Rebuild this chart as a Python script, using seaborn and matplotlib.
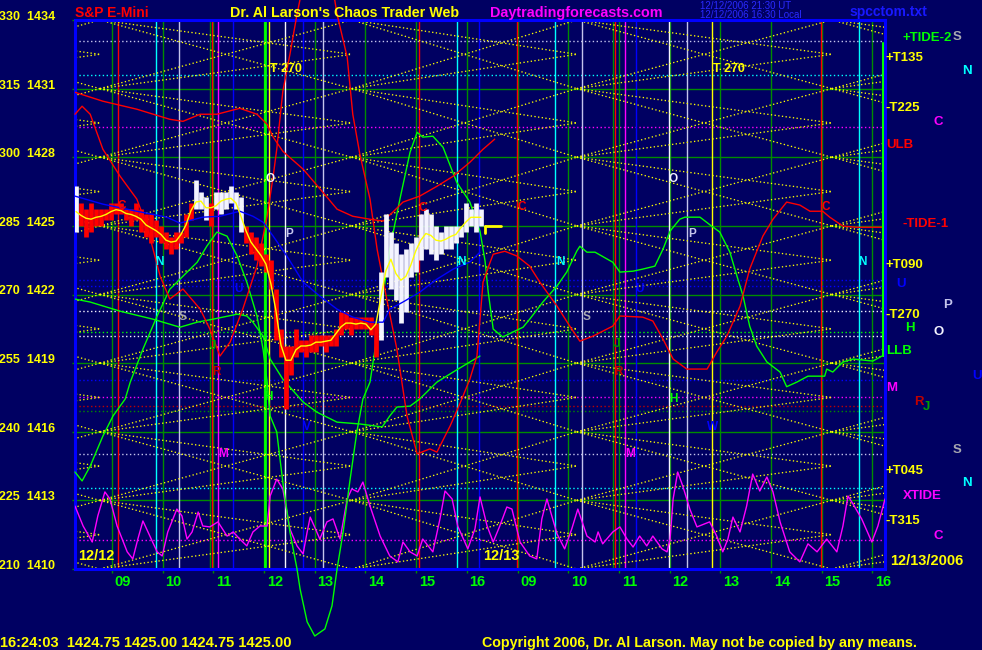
import numpy as np
import pandas as pd
import matplotlib
matplotlib.use("Agg")
import matplotlib.pyplot as plt
import matplotlib.transforms as mtransforms
from matplotlib.collections import LineCollection
import seaborn as sns

sns.set_theme(style="dark")
REG = ['Liberation Sans', 'DejaVu Sans']
NARROW = ['Liberation Sans Narrow', 'Liberation Sans', 'DejaVu Sans']
plt.rcParams['font.family'] = REG

# ---------------------------------------------------------------- data
# x axis = chart hours: 0 = 09:00 on 12/12, 8 = 09:00 on 12/13 (night collapsed)
hour_ticks = list(range(16))
hour_labels = ['09', '10', '11', '12', '13', '14', '15', '16'] * 2
price_ticks = [1410, 1413, 1416, 1419, 1422, 1425, 1428, 1431, 1434]
index_ticks = [210, 225, 240, 255, 270, 285, 300, 315, 330]

# ~6-minute price bars of 12/12
bar_t0 = -0.71
bar_step = 0.0986
bar_high = [1426.75, 1426.0, 1425.75, 1426.0, 1425.75, 1425.75, 1425.75, 1426.0, 1426.0, 1426.0,
            1425.75, 1425.75, 1426.0, 1425.75, 1425.5, 1425.5, 1425.25, 1425.0, 1424.75, 1424.5,
            1424.75, 1424.75, 1425.5, 1426.0, 1427.0, 1426.5, 1426.25, 1426.0, 1426.5, 1426.5,
            1426.5, 1426.75, 1426.5, 1426.25, 1425.0, 1424.75, 1424.5, 1424.25, 1423.75, 1423.5,
            1422.25, 1420.5, 1419.75, 1419.75, 1420.5, 1420.0, 1420.0, 1420.25, 1420.25, 1420.25,
            1420.25, 1420.25, 1420.5, 1421.25, 1421.25, 1421.0, 1421.0, 1421.0, 1421.0, 1421.0,
            1420.75, 1423.0, 1425.5, 1424.75, 1424.25, 1423.75, 1424.0, 1424.25, 1424.5, 1425.5,
            1425.75, 1425.5, 1425.0, 1424.75, 1425.0, 1425.0, 1425.0, 1425.0, 1426.0, 1425.75,
            1426.0, 1425.75]
bar_low = [1424.75, 1425.0, 1424.5, 1424.75, 1425.0, 1425.0, 1425.25, 1425.25, 1425.5, 1425.5,
           1425.25, 1425.0, 1425.25, 1424.75, 1424.5, 1424.25, 1424.5, 1424.25, 1424.0, 1423.75,
           1424.0, 1424.25, 1424.5, 1425.25, 1425.75, 1425.75, 1425.25, 1425.0, 1425.75, 1425.5,
           1425.75, 1426.0, 1425.75, 1424.75, 1424.25, 1423.75, 1423.5, 1423.25, 1423.0, 1422.25,
           1420.0, 1419.25, 1417.0, 1418.5, 1419.25, 1419.5, 1419.25, 1419.5, 1419.5, 1419.75,
           1419.5, 1419.75, 1419.75, 1420.25, 1420.5, 1420.25, 1420.5, 1420.5, 1420.5, 1420.25,
           1419.25, 1420.0, 1422.75, 1422.25, 1421.75, 1420.75, 1421.25, 1422.75, 1423.0, 1423.5,
           1424.0, 1423.75, 1423.5, 1423.75, 1424.0, 1424.0, 1424.25, 1424.5, 1424.75, 1425.0,
           1424.75, 1425.0]
bar_state = "W" + "R" * 23 + "WWW" + "R" + "WWWWWW" + "R" * 27 + "W" * 21
last_price = 1425.00
quote_time = "16:24:03"
last_quote = ["1424.75", "1425.00", "1424.75", "1425.00"]

# slow average (blue)
blue_t = [-0.73, -0.18, 0.49, 1.08, 1.34, 1.79, 2.13, 2.52, 2.78, 2.98, 3.18, 3.45, 3.77,
          4.10, 4.44, 4.75, 5.09, 5.35, 5.48, 5.74, 6.07, 6.41, 6.73, 7.06, 7.26]
blue_p = [1426.30, 1425.95, 1425.64, 1425.38, 1425.12, 1425.38, 1425.42, 1425.64, 1425.42,
          1425.16, 1424.55, 1423.68, 1422.54, 1421.93, 1421.36, 1421.01, 1420.79, 1420.79,
          1421.36, 1421.67, 1422.10, 1422.67, 1423.11, 1423.42, 1423.85]

# red cycle curves
red_a_t = [-0.73, -0.18, 0.49, 1.14, 1.40, 1.74, 2.07, 2.52, 2.86, 3.06, 3.18, 3.37, 3.77,
           4.16, 4.44, 4.75, 5.09, 5.35, 5.54, 5.74, 6.07, 6.41, 6.73, 7.06, 7.32, 7.55]
red_a_p = [1430.84, 1430.45, 1430.10, 1429.66, 1429.57, 1429.88, 1429.88, 1430.14, 1429.88,
           1429.44, 1428.88, 1428.26, 1427.48, 1426.47, 1425.73, 1425.42, 1425.29, 1425.21,
           1425.60, 1426.04, 1426.30, 1426.73, 1427.17, 1427.78, 1428.35, 1428.79]
red_b_t = [-0.73, -0.59, -0.43, -0.18, 0.16, 0.49, 0.69, 0.81, 0.95, 1.14, 1.40, 1.74, 1.93,
           2.13, 2.33, 2.58, 2.86, 3.06, 3.18, 3.25, 3.37, 3.51, 3.65, 3.75, 4.36, 4.44, 4.64,
           4.75, 4.89, 5.09, 5.23, 5.42, 5.62, 5.82, 6.02, 6.27, 6.41, 6.67, 6.86, 7.06, 7.20,
           7.26, 7.32, 7.46, 7.52, 7.75, 7.99, 8.24, 8.44, 8.78, 9.03, 9.23, 9.49, 9.88, 10.02,
           10.47, 10.67, 10.87, 11.07, 11.34, 11.74, 11.93, 12.13, 12.39, 12.58, 12.84, 13.04,
           13.31, 13.57, 13.77, 14.02, 14.16, 14.42, 14.69, 15.21]
red_b_p = [1429.88, 1430.23, 1429.88, 1428.35, 1427.17, 1426.17, 1424.99, 1423.98, 1422.80,
           1421.80, 1422.24, 1421.36, 1420.49, 1419.31, 1419.92, 1421.36, 1423.24, 1425.42,
           1427.17, 1428.35, 1430.88, 1432.50, 1434.25, 1435.34, 1435.34, 1434.25, 1432.37,
           1429.88, 1428.13, 1426.17, 1423.98, 1421.80, 1419.61, 1416.69, 1415.03, 1415.25,
           1415.11, 1416.25, 1417.21, 1418.30, 1419.31, 1420.92, 1422.54, 1423.41, 1423.76,
           1423.89, 1423.68, 1423.24, 1422.54, 1421.49, 1420.62, 1419.96, 1420.18, 1420.62,
           1421.06, 1421.01, 1420.84, 1420.05, 1419.18, 1418.74, 1418.74, 1419.48, 1420.18,
           1421.49, 1423.11, 1424.55, 1425.29, 1426.04, 1425.91, 1425.64, 1425.64, 1425.38,
           1424.99, 1424.94, 1424.94]

# green cycle curves
green_a_t = [-0.73, -0.59, -0.43, -0.18, 0.02, 0.26, 0.36, 0.61, 0.89, 1.14, 1.40, 1.68, 1.87,
             2.07, 2.27, 2.47, 2.66, 2.86, 2.98, 3.06, 3.12, 3.25, 3.37, 3.51, 3.65, 3.71, 3.85,
             4.00, 4.20, 4.34, 4.44, 4.56, 4.69, 4.83, 4.95, 5.09, 5.29, 5.48, 5.68, 5.88, 6.02,
             6.13, 6.33, 6.53, 6.80, 7.06, 7.26, 7.36, 7.42, 7.52, 7.71, 7.91, 8.11, 8.24, 8.50,
             8.78, 8.97, 9.17, 9.23, 9.37, 9.53, 9.88, 10.02, 10.28, 10.47, 10.71, 10.87, 11.01,
             11.20, 11.30, 11.60, 11.83, 11.99, 12.19, 12.33, 12.45, 12.58, 12.72, 12.92, 13.18,
             13.31, 13.51, 13.73, 14.06, 14.10, 14.22, 14.42, 14.62, 15.01, 15.19]
green_a_p = [1414.24, 1413.85, 1414.50, 1415.81, 1416.69, 1417.43, 1418.17, 1419.61, 1421.06,
             1422.23, 1422.80, 1423.41, 1424.11, 1424.73, 1424.55, 1423.68, 1422.54, 1421.06,
             1419.61, 1418.17, 1416.69, 1415.99, 1413.80, 1411.62, 1410.00, 1409.13, 1407.69,
             1407.07, 1407.38, 1408.39, 1410.00, 1411.62, 1413.80, 1415.99, 1417.43, 1418.17,
             1421.06, 1423.98, 1426.17, 1428.22, 1429.09, 1428.88, 1428.92, 1428.44, 1426.91,
             1426.04, 1424.77, 1423.46, 1422.15, 1420.49, 1420.14, 1420.36, 1420.57, 1420.92,
             1421.67, 1422.37, 1422.98, 1423.90, 1424.11, 1423.85, 1423.85, 1423.41, 1422.98,
             1423.02, 1423.11, 1423.24, 1423.98, 1424.77, 1425.29, 1425.38, 1425.38, 1424.99,
             1424.73, 1423.85, 1422.80, 1421.93, 1420.62, 1419.74, 1419.05, 1418.61, 1417.97,
             1418.17, 1418.43, 1418.43, 1418.74, 1418.61, 1419.05, 1419.18, 1419.09, 1419.31]
green_b_t = [-0.73, -0.43, 0.16, 0.81, 1.34, 1.68, 1.99, 2.47, 2.66, 2.78, 2.98, 3.12, 3.37,
             3.77, 4.04, 4.44, 4.89, 5.33, 5.48, 5.62, 5.88, 6.07, 6.41, 6.73, 7.06, 7.26]
green_b_p = [1421.80, 1421.67, 1421.27, 1420.92, 1420.57, 1420.79, 1420.92, 1421.14, 1421.06,
             1420.79, 1420.18, 1419.18, 1418.30, 1417.30, 1416.86, 1416.42, 1416.34, 1416.21,
             1416.69, 1417.08, 1417.12, 1417.43, 1418.17, 1418.61, 1419.05, 1419.31]

# XTIDE oscillator (magenta)
xtide_t = [-0.73, -0.57, -0.39, -0.28, -0.14, -0.04, 0.10, 0.30, 0.41, 0.51,
           0.61, 0.71, 0.89, 0.99, 1.10, 1.28, 1.38, 1.48, 1.58, 1.70,
           1.79, 1.93, 2.09, 2.27, 2.39, 2.52, 2.66, 2.78, 2.92, 3.06,
           3.12, 3.25, 3.37, 3.51, 3.65, 3.77, 3.85, 3.91, 4.04, 4.10,
           4.24, 4.36, 4.50, 4.64, 4.73, 4.85, 4.95, 5.09, 5.29, 5.48,
           5.64, 5.74, 5.88, 6.02, 6.13, 6.33, 6.47, 6.57, 6.71, 6.82,
           7.02, 7.16, 7.26, 7.40, 7.52, 7.65, 7.79, 7.89, 8.05, 8.24,
           8.38, 8.48, 8.58, 8.78, 8.93, 9.07, 9.19, 9.37, 9.53, 9.59,
           9.68, 9.88, 10.02, 10.16, 10.28, 10.41, 10.55, 10.67, 10.85, 10.95,
           11.01, 11.07, 11.16, 11.26, 11.40, 11.54, 11.79, 11.93, 12.05, 12.15,
           12.25, 12.39, 12.52, 12.64, 12.78, 12.92, 13.04, 13.18, 13.37, 13.57,
           13.73, 13.91, 14.10, 14.30, 14.42, 14.52, 14.62, 14.79, 14.99, 15.11,
           15.25]
xtide_p = [1412.75, 1411.88, 1411.18, 1412.32, 1413.37, 1413.06, 1411.88, 1410.75, 1410.44, 1411.31,
           1412.10, 1411.62, 1410.75, 1410.57, 1411.62, 1412.62, 1412.32, 1411.31, 1411.62, 1412.49,
           1411.88, 1411.84, 1412.06, 1411.44, 1411.62, 1411.31, 1411.01, 1411.62, 1411.88, 1411.88,
           1413.19, 1413.93, 1413.50, 1411.75, 1411.01, 1410.66, 1411.62, 1412.27, 1411.62, 1411.31,
           1412.06, 1412.19, 1411.31, 1413.06, 1413.50, 1413.37, 1413.80, 1412.75, 1411.44, 1410.57,
           1410.31, 1411.18, 1410.75, 1410.57, 1411.31, 1410.75, 1412.19, 1413.41, 1413.06, 1411.88,
           1410.88, 1411.75, 1413.15, 1411.88, 1411.18, 1411.88, 1412.71, 1412.62, 1411.18, 1410.57,
           1410.44, 1412.19, 1413.06, 1411.53, 1410.88, 1411.75, 1412.62, 1411.44, 1411.18, 1411.62,
           1411.10, 1411.62, 1411.84, 1411.31, 1410.96, 1411.44, 1411.01, 1411.44, 1410.88, 1410.75,
           1411.31, 1413.06, 1414.24, 1413.63, 1412.62, 1411.84, 1412.06, 1411.44, 1410.75, 1411.31,
           1412.27, 1411.62, 1412.75, 1414.15, 1413.41, 1414.02, 1413.37, 1412.06, 1410.75, 1410.31,
           1411.10, 1410.75, 1411.31, 1410.75, 1411.88, 1413.19, 1412.84, 1412.19, 1411.18, 1411.88,
           1413.06]

# time events (vertical lines) and price levels (dotted horizontals)
event_t = [0.12, 0.87, 1.32, 1.93, 1.97, 2.09, 2.39, 3.02, 3.10, 3.41, 3.77, 4.16, 6.06, 6.80,
           7.24, 7.99, 8.74, 9.27, 9.88, 9.92, 10.12, 10.34, 10.99, 11.34, 11.83, 13.98, 14.73]
event_kind = ['red', 'cyan', 'lav', 'green', 'red', 'mag', 'blue', 'bgreen', 'yel', 'white',
              'blue', 'lav', 'red', 'cyan', 'blue', 'red', 'cyan', 'lav', 'green', 'red', 'mag',
              'blue', 'white', 'lav', 'yel', 'red', 'cyan']
level_p = [1433.07, 1431.58, 1429.31, 1422.63, 1422.37, 1421.27, 1420.35, 1420.20, 1418.26,
           1417.50, 1417.12, 1416.90, 1415.03, 1413.54, 1411.27]
level_kind = ['lav', 'cyan', 'mag', 'blue', 'blue', 'white', 'bgreen', 'white', 'blue', 'mag',
              'dkred', 'green', 'lav', 'cyan', 'mag']

# harmonic lattice (yellow dotted): node times, node levels, rays
lattice_t = [-5.20, -0.24, 4.73, 9.17, 14.20, 19.20]
lattice_levels = [1404, 1407] + price_ticks + [1437, 1440]
lattice_rays = [3.0, -3.0, 1.5, -1.5]

# right-hand legend of levels
right_text = ['+TIDE-2', 'S', '+T135', 'N', '-T225', 'C', 'ULB', '-TIDE-1', '+T090', 'U',
              'P', '-T270', 'H', 'O', 'LLB', 'U', 'M', 'R', 'J', 'S', '+T045', 'N', 'XTIDE',
              '-T315', 'C']
right_p = [1433.20, 1433.24, 1432.33, 1431.76, 1430.14, 1429.53, 1428.53, 1425.07, 1423.28,
           1422.45, 1421.54, 1421.10, 1420.53, 1420.36, 1419.53, 1418.43, 1417.91, 1417.30,
           1417.08, 1415.20, 1414.28, 1413.76, 1413.19, 1412.10, 1411.44]
right_kind = ['bgreen', 'gray', 'yel', 'cyan', 'yel', 'mag', 'red', 'red', 'yel', 'blue',
              'lav', 'yel', 'bgreen', 'white', 'bgreen', 'blue', 'mag', 'dkred', 'dkgreen',
              'gray', 'yel', 'cyan', 'mag', 'yel', 'mag']

# cycle letters in the plot
letter_text = ['C', 'N', 'S', 'U', 'J', 'R', 'M', 'O', 'P', 'H', 'V', 'C', 'N',
               'C', 'N', 'S', 'U', 'J', 'R', 'M', 'O', 'P', 'H', 'W', 'C', 'N']
letter_t = [0.20, 0.93, 1.40, 2.49, 1.99, 2.07, 2.19, 3.12, 3.49, 3.08, 3.85, 6.13, 6.90,
            8.09, 8.84, 9.37, 10.41, 9.96, 10.00, 10.22, 11.07, 11.44, 11.07, 11.85, 14.08, 14.81]
letter_p = [1425.86, 1423.41, 1421.01, 1422.24, 1419.74, 1418.61, 1415.03, 1427.04, 1424.64,
            1417.52, 1416.21, 1425.77, 1423.41,
            1425.82, 1423.41, 1421.01, 1422.24, 1419.83, 1418.61, 1415.03, 1427.04, 1424.64,
            1417.43, 1416.21, 1425.82, 1423.41]
letter_kind = ['red', 'cyan', 'gray', 'blue', 'dkgreen', 'dkred', 'mag', 'white', 'lav',
               'bgreen', 'blue', 'red', 'cyan',
               'red', 'cyan', 'gray', 'blue', 'dkgreen', 'dkred', 'mag', 'white', 'lav',
               'bgreen', 'blue', 'red', 'cyan']
t270_t = [3.12, 11.85]
t270_p = 1431.85

# ---------------------------------------------------------------- style
BG = '#000062'
COL = {'red': '#ff0000', 'dkred': '#c00000', 'green': '#008c00', 'bgreen': '#00ff00',
       'dkgreen': '#00a000', 'cyan': '#00ffff', 'lav': '#c4c4ec', 'mag': '#ff00ff',
       'blue': '#0000ff', 'yel': '#ffff00', 'white': '#f4f4ff', 'gray': '#a8a8b0'}
DOT = (0, (1, 1.8))

W, H = 982, 650
fig = plt.figure(figsize=(W / 100, H / 100), dpi=100, facecolor=BG)
ax = fig.add_axes([75 / W, 1 - 569 / H, 810 / W, 549 / H])
ax.set_facecolor(BG)
ax.set_xlim(-0.73, 15.25)
ax.set_ylim(1410, 1434)
ax.grid(False)

# hour grid and price grid
for t in hour_ticks:
    ax.axvline(t, color=COL['green'], lw=1.0, zorder=1)
for p in price_ticks:
    ax.axhline(p, color=COL['green'], lw=1.0, zorder=1)

# dotted price levels
for p, k in zip(level_p, level_kind):
    ax.axhline(p, color=COL[k], lw=1.0, ls=DOT, zorder=1.5)

# event lines
for t, k in zip(event_t, event_kind):
    ax.axvline(t, color=COL[k], lw=2.0 if k == 'bgreen' else 1.0, zorder=1.6)

# lattice
segs = []
for i in range(len(lattice_t) - 1):
    for L in lattice_levels:
        for d in lattice_rays:
            segs.append([(lattice_t[i], L), (lattice_t[i + 1], L + d)])
ax.add_collection(LineCollection(segs, colors=COL['yel'], linewidths=0.95,
                                 linestyles=[DOT], zorder=2))

# cycle curves
def curve(tt, pp, color, clip=True, lw=1.0, z=3):
    sns.lineplot(x=list(tt), y=list(pp), sort=False, estimator=None, color=color, lw=lw,
                 ax=ax, zorder=z, clip_on=clip)

curve(xtide_t, xtide_p, COL['mag'])
curve(green_b_t, green_b_p, COL['bgreen'])
curve(green_a_t, green_a_p, COL['bgreen'], clip=False)
curve(red_a_t, red_a_p, COL['red'])
curve(red_b_t, red_b_p, COL['red'], clip=False)

# price bars
n = len(bar_high)
bar_t = bar_t0 + bar_step * np.arange(n)
bars = pd.DataFrame({'t': bar_t, 'hi': bar_high, 'lo': bar_low, 'state': list(bar_state)})
bars['mid'] = (bars['hi'] + bars['lo']) / 2
bars['fast'] = bars['mid'].rolling(3, center=True, min_periods=1).mean()
ax.vlines(bars['t'], bars['lo'], bars['hi'],
          colors=[COL['white'] if s == 'W' else COL['red'] for s in bars['state']],
          linewidth=3.4, zorder=5)
curve(blue_t, blue_p, COL['blue'], z=6)
curve(bars['t'], bars['fast'], COL['yel'], z=6)

# last price marker
ax.plot([bar_t[-1] + 0.08, bar_t[-1] + 0.40], [last_price, last_price], color=COL['yel'], lw=2, zorder=6)
ax.plot([bar_t[-1] + 0.08, bar_t[-1] + 0.08], [last_price, last_price - 0.3], color=COL['yel'], lw=2, zorder=6)

# right edge marker
ax.axvline(15.21, ymin=(1419.3 - 1410) / 24, ymax=(1433.0 - 1410) / 24, color=COL['bgreen'], lw=1.5, zorder=7)

# ------------------------------------------------------------ axes dressing
for s in ax.spines.values():
    s.set_color('#0000ff')
    s.set_linewidth(2.2)
    s.set_visible(True)

ax.set_xlabel('')
ax.set_ylabel('')
ax.set_yticks(price_ticks)
ax.set_yticklabels([f"{i}  {p}" for i, p in zip(index_ticks, price_ticks)],
                   fontsize=9, fontweight='bold', va='baseline', family=REG)
ax.set_xticks(hour_ticks)
ax.set_xticklabels(hour_labels, fontsize=10.5, fontweight='bold', ha='left', family=NARROW)
ax.tick_params(axis='y', left=True, length=2.2, width=1, color=COL['green'],
               labelcolor=COL['yel'], pad=12.2)
ax.tick_params(axis='x', bottom=True, length=3, width=1, color=COL['green'],
               labelcolor=COL['bgreen'], pad=1.0)
offset = mtransforms.ScaledTranslation(2.0 / 72, 0, fig.dpi_scale_trans)
for lab in ax.get_xticklabels():
    lab.set_transform(lab.get_transform() + offset)

# in-plot letters
for s, t, p, k in zip(letter_text, letter_t, letter_p, letter_kind):
    ax.text(t, p, s, color=COL[k], fontsize=8.5, fontweight='bold', ha='center', va='center',
            zorder=8, family=REG)
for t in t270_t:
    ax.text(t, t270_p, 'T 270', color=COL['yel'], fontsize=9, fontweight='bold', ha='left',
            va='center', zorder=8, family=NARROW)
ax.text(-0.67, 1410.57, '12/12', color=COL['yel'], fontsize=10.5, fontweight='bold',
        ha='left', va='center', zorder=8, family=NARROW)
ax.text(7.32, 1410.57, '12/13', color=COL['yel'], fontsize=10.5, fontweight='bold',
        ha='left', va='center', zorder=8, family=NARROW)

# right legend
right_x_px = [903, 953, 885, 962, 885, 934, 886, 903, 885, 896, 943, 885, 905, 934, 886, 972,
              886, 914, 923, 953, 885, 962, 903, 885, 934]
trans = mtransforms.blended_transform_factory(ax.transAxes, ax.transData)
for s, p, k, xp in zip(right_text, right_p, right_kind, right_x_px):
    ax.text((xp - 75) / 810, p, s, color=COL[k], fontsize=9.5, fontweight='bold', ha='left',
            va='center', transform=trans, clip_on=False, family=NARROW)

# titles and footer
def ftext(xp, yp, s, color, size, weight='bold', fam=REG):
    fig.text(xp / W, 1 - yp / H, s, color=color, fontsize=size, fontweight=weight,
             ha='left', va='center', family=fam)

ftext(75, 13, 'S&P E-Mini', '#ff0000', 10)
ftext(230, 13, "Dr. Al Larson's Chaos Trader Web", '#ffff00', 10.3)
ftext(490, 13, 'Daytradingforecasts.com', '#ff00ff', 10.4)
ftext(700, 6, '12/12/2006 21:30 UT', '#2a2aff', 7, 'normal')
ftext(700, 15, '12/12/2006 16:30 Local', '#2a2aff', 7, 'normal')
ftext(850, 12, 'spcctom.txt', '#1818ff', 10)
ftext(890, 561, '12/13/2006', '#ffff00', 10.5, fam=NARROW)
ftext(0, 643, quote_time + '  ' + ' '.join(last_quote), '#ffff00', 10.5, fam=NARROW)
ftext(482, 643, 'Copyright 2006, Dr. Al Larson. May not be copied by any means.', '#ffff00', 10.3, fam=NARROW)

fig.savefig('out.png', dpi=100, facecolor=BG)
